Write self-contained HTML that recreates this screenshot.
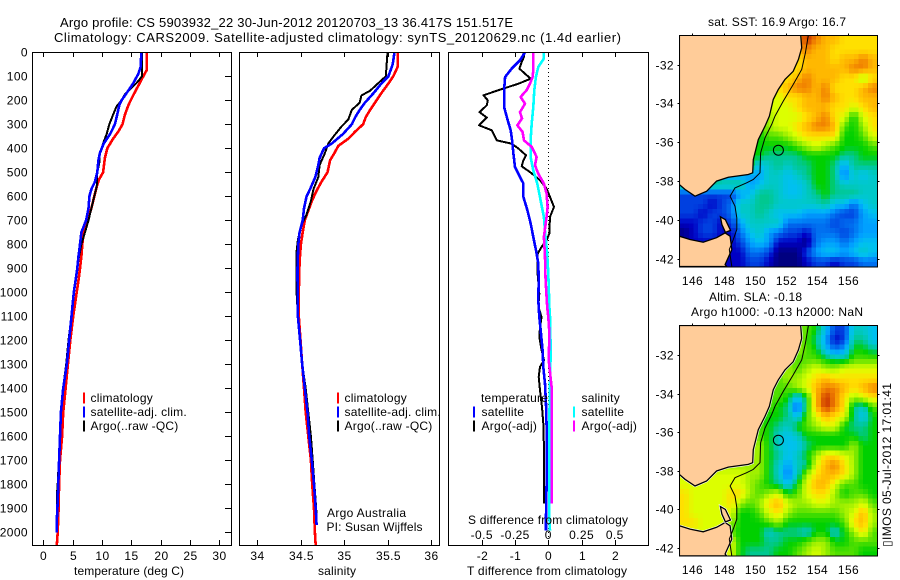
<!DOCTYPE html>
<html lang="en">
<head>
<meta charset="utf-8">
<title>Argo profile CS 5903932_22</title>
<style>
html,body{margin:0;padding:0;background:#fff;width:900px;height:580px;overflow:hidden}
svg{display:block}
text{font-family:"Liberation Sans",sans-serif;font-size:12px;fill:#000}
.ln{fill:none;stroke-width:2;shape-rendering:crispEdges;stroke-linejoin:round}
.ln-wide{fill:none;stroke-width:2.6;shape-rendering:crispEdges;stroke-linejoin:round}
.ax{fill:none;stroke:#000;stroke-width:1;shape-rendering:crispEdges}
</style>
</head>
<body>
<svg id="chart" xmlns="http://www.w3.org/2000/svg" width="900" height="580" viewBox="0 0 900 580">
  <rect x="0" y="0" width="900" height="580" fill="#fff"/>
  <g id="heat"></g>
  <g id="marks"></g>
  <g id="axes"></g>

  <text x="60" y="27" font-size="13" style="font-size:13px" textLength="453" lengthAdjust="spacing">Argo profile: CS 5903932_22 30-Jun-2012 20120703_13 36.417S 151.517E</text>
  <text x="54" y="42" style="font-size:13px" textLength="567" lengthAdjust="spacing">Climatology: CARS2009. Satellite-adjusted climatology: synTS_20120629.nc (1.4d earlier)</text>

  <text x="129" y="575" text-anchor="middle" textLength="110" lengthAdjust="spacing">temperature (deg C)</text>
  <text x="337" y="575" text-anchor="middle" textLength="38" lengthAdjust="spacing">salinity</text>
  <text x="547" y="575" text-anchor="middle" textLength="160" lengthAdjust="spacing">T difference from climatology</text>
  <text x="548" y="524" text-anchor="middle" textLength="160" lengthAdjust="spacing">S difference from climatology</text>

  <text x="327" y="517" textLength="79" lengthAdjust="spacing">Argo Australia</text>
  <text x="326.5" y="531" textLength="96" lengthAdjust="spacing">PI: Susan Wijffels</text>

  <text x="777" y="26" text-anchor="middle" textLength="138" lengthAdjust="spacing">sat. SST: 16.9 Argo: 16.7</text>
  <text x="709" y="301" textLength="93" lengthAdjust="spacing">Altim. SLA: -0.18</text>
  <text x="691" y="316" textLength="172" lengthAdjust="spacing">Argo h1000: -0.13 h2000: NaN</text>
  <text transform="translate(891,547) rotate(-90)" textLength="164" lengthAdjust="spacing">▯IMOS 05-Jul-2012 17:01:41</text>
</svg>
<script>
/* depth ticks */
const depthTicks = [0,100,200,300,400,500,600,700,800,900,1000,1100,1200,1300,1400,1500,1600,1700,1800,1900,2000];
const tempTicks = [0,5,10,15,20,25,30];
const salTicks = [34,34.5,35,35.5,36];
const salTickLabels = ['34','34.5','35','35.5','36'];
const tDiffTicks = [-2,-1,0,1,2];
const sDiffTicks = [-0.5,-0.25,0,0.25,0.5];
const sDiffLabels = ['-0.5','-0.25','0','0.25','0.5'];
const lonTicks = [146,148,150,152,154,156];
const latTicks = [-32,-34,-36,-38,-40,-42];

/* temperature profiles */
const tempClimDepth = [0,75,100,130,180,220,260,300,330,360,400,440,500,530,560,600,650,700,750,800,850,900,950,1000,1100,1200,1300,1400,1500,1600,1700,1800,1900,2000,2055];
const tempClimValue = [17.6,17.6,17.05,16.4,15.3,14.5,13.9,13.5,12.8,11.9,10.9,10.5,10.2,9.5,9.1,8.7,8.2,7.5,6.9,6.65,6.5,6.25,6.0,5.7,5.1,4.6,4.2,3.8,3.4,3.2,2.85,2.7,2.6,2.45,2.3];
const tempSatDepth = [0,60,90,130,170,200,220,260,300,340,380,420,450,500,540,570,600,650,700,750,800,850,900,950,1000,1100,1200,1300,1400,1500,1600,1700,1800,1900,1950,2000];
const tempSatValue = [16.7,16.6,16.2,15.3,14.2,13.35,12.95,12.6,12.2,11.4,10.3,9.65,9.4,9.2,8.8,8.2,7.85,7.7,7.3,6.5,6.25,6,5.8,5.5,5.2,4.8,4.4,4.0,3.4,3.0,2.85,2.7,2.55,2.4,2.3,2.3];
const tempArgoDepth = [0,100,120,150,175,200,225,260,300,340,380,420,460,500,560,600,650,700,750,800,850,900,950,1000,1100,1200,1300,1400,1500,1600,1700,1800,1850,1900,1960];
const tempArgoValue = [16.8,16.8,16.2,15,13.9,13.35,12.5,11.9,11.25,10.8,10.2,9.65,9.55,9.2,9.1,8.7,8.2,7.7,7.1,6.5,6.1,5.8,5.5,5.2,4.8,4.3,3.9,3.35,3.0,2.8,2.65,2.45,2.3,2.3,2.35];

/* salinity profiles */
const salClimDepth = [0,60,100,130,170,210,240,270,300,330,360,390,420,450,500,540,580,620,660,700,750,800,870,1000,1100,1200,1300,1400,1500,1600,1700,1800,1900,2000,2055];
const salClimValue = [35.617,35.617,35.567,35.51,35.43,35.356,35.3,35.25,35.22,35.13,35.05,34.935,34.89,34.84,34.81,34.74,34.68,34.63,34.59,34.55,34.525,34.505,34.49,34.48,34.48,34.5,34.52,34.54,34.56,34.59,34.62,34.635,34.655,34.665,34.675];
const salSatDepth = [0,50,100,130,170,210,240,270,300,340,380,400,440,470,520,570,600,650,700,750,800,900,1000,1100,1200,1300,1400,1500,1600,1700,1800,1900,1970];
const salSatValue = [35.58,35.56,35.51,35.43,35.34,35.24,35.18,35.13,35.09,34.99,34.86,34.77,34.72,34.705,34.67,34.61,34.57,34.54,34.525,34.49,34.475,34.465,34.467,34.47,34.495,34.52,34.55,34.58,34.6,34.63,34.655,34.675,34.685];
const salArgoDepth = [0,100,130,160,180,210,240,280,310,350,380,420,470,520,570,620,680,720,780,830,1000,1100,1200,1300,1400,1500,1600,1700,1800,1900,1950];
const salArgoValue = [35.5,35.48,35.39,35.3,35.2,35.18,35.09,35.05,34.97,34.88,34.82,34.78,34.72,34.705,34.65,34.62,34.565,34.51,34.47,34.455,34.455,34.47,34.495,34.52,34.56,34.59,34.62,34.64,34.66,34.68,34.685];

/* difference profiles */
const dTSatDepth = [0,33,68,103,158,228,283,325,367,422,478,519,547,603,658,714,769,825,880,950,1033,1103,1172,1242,1311,1381,1464,1561,1658,1797,1936,1992];
const dTSatValue = [-0.7,-0.85,-1.1,-1.3,-1.33,-1.33,-1.22,-1.13,-1.09,-1.05,-1,-0.85,-0.75,-0.75,-0.63,-0.53,-0.45,-0.37,-0.3,-0.29,-0.3,-0.27,-0.22,-0.17,-0.15,-0.1,-0.07,-0.05,-0.05,-0.05,-0.07,-0.07];
const dTArgoDepth = [0,19,40,68,89,110,131,158,179,200,221,249,272,304,325,367,381,401,429,450,475,499,533,568,603,644,686,755,783,811,839,908,1006,1061,1103,1144,1186,1242,1283,1311,1353,1408,1478,1547,1658,1880];
const dTArgoValue = [-0.75,-0.73,-0.8,-0.87,-0.7,-0.53,-0.9,-1.5,-1.95,-1.82,-1.85,-2.07,-1.85,-2.08,-1.7,-1.55,-1.1,-0.9,-0.67,-0.75,-0.8,-0.55,-0.25,-0.05,0.05,0.17,0.05,0.03,-0.05,-0.2,-0.32,-0.33,-0.27,-0.3,-0.2,-0.25,-0.27,-0.2,-0.13,-0.25,-0.29,-0.25,-0.19,-0.15,-0.13,-0.13];
const dSSatDepth = [0,26,61,103,158,228,297,367,436,492,547,617,686,755,839,922,1061,1103,1242,1381,1519,1658,1797,1936,1992];
const dSSatValue = [-0.033,-0.033,-0.075,-0.093,-0.105,-0.113,-0.125,-0.133,-0.133,-0.113,-0.083,-0.058,-0.033,-0.023,-0.008,0,0.008,0.013,0.018,0.013,0.008,0.005,0.008,0.008,0.013];
const dSArgoDepth = [0,75,103,131,158,186,214,249,276,304,332,367,394,436,471,506,547,589,644,686,769,853,950,1061,1103,1172,1283,1394,1589,1880];
const dSArgoValue = [-0.113,-0.113,-0.118,-0.138,-0.163,-0.208,-0.175,-0.213,-0.198,-0.233,-0.193,-0.183,-0.125,-0.088,-0.1,-0.075,-0.033,-0.013,-0.005,-0.013,-0.033,-0.025,-0.02,-0.008,0,0.008,0.003,0.025,0.025,0.025];

/* gridded map values: colour class per cell, north to south */
const sstGrid = [
[13,13,13,13,13,13,13,13,13,13,13,13,13,15,14,13,13,12,12,12,12],
[13,13,13,13,13,13,13,13,13,13,13,13,13,14,13,13,12,12,12,12,12],
[12,12,12,12,12,12,12,12,12,12,12,12,12,13,13,13,12,13,13,14,13],
[12,12,12,12,12,12,12,12,12,12,12,12,12,13,13,13,13,13,14,14,13],
[12,12,12,12,12,12,12,12,12,12,12,12,13,14,13,13,13,12,12,10,12],
[12,12,12,12,12,12,12,12,12,12,12,13,14,14,13,14,12,12,12,13,14],
[11,11,11,11,11,11,11,11,11,11,11,12,12,13,13,14,13,12,12,13,13],
[11,11,11,11,11,11,11,11,11,11,11,11,12,13,13,13,12,12,11,12,13],
[10,10,10,10,10,10,10,10,10,10,11,11,11,12,13,14,12,11,8,11,12],
[9,9,9,9,9,9,9,9,9,10,11,11,12,13,14,14,13,9,8,10,12],
[8,8,8,8,8,8,8,8,8,9,9,10,11,12,12,12,12,8,8,9,11],
[8,8,8,8,8,8,8,8,8,8,8,8,9,10,11,10,9,8,8,8,9],
[8,8,8,8,8,8,8,8,8,7,7,7,7,8,8,8,8,7,7,8,8],
[8,8,8,8,8,8,8,8,5,6,7,6,7,7,8,8,7,4,7,7,7],
[8,8,8,8,4,4,4,4,4,6,6,5,6,7,8,8,7,3,6,5,6],
[7,7,7,7,7,7,7,4,5,6,6,5,5,6,8,8,7,6,6,6,6],
[2,2,2,2,2,2,4,5,7,7,6,5,5,6,7,8,7,7,7,6,6],
[2,2,2,1,2,3,6,6,7,7,6,6,6,6,6,7,5,5,3,5,6],
[2,2,1,2,2,3,6,6,7,6,5,5,5,4,4,4,3,2,2,4,5],
[1,1,2,2,1,2,4,6,6,6,6,3,3,3,3,3,2,3,3,4,4],
[0,1,2,2,1,1,3,5,6,4,3,2,2,1,3,3,3,2,3,4,4],
[1,1,1,1,1,1,2,4,5,4,1,1,1,0,3,4,4,3,4,5,5],
[1,1,1,1,1,1,1,3,3,2,0,0,0,2,4,5,5,4,5,6,5],
[1,1,1,1,1,1,1,2,2,1,0,0,0,1,2,2,1,2,2,3,3]
];
const slaGrid = [
[10,10,10,10,10,10,10,10,10,10,10,10,10,9,8,5,2,2,6,6,5],
[10,10,10,10,10,10,10,10,10,10,10,10,10,9,7,4,1,2,7,7,5],
[10,10,10,10,10,10,10,10,10,10,10,10,10,9,8,5,3,4,8,8,7],
[10,10,10,10,10,10,10,10,10,10,10,10,9,9,9,8,7,7,9,9,9],
[10,10,10,10,10,10,10,10,10,10,10,10,9,10,11,10,10,11,11,11,11],
[10,10,10,10,10,10,10,10,10,10,9,10,10,11,12,13,12,12,12,12,12],
[10,10,10,10,10,10,10,10,10,9,9,9,10,11,13,14,14,13,12,13,14],
[10,10,10,10,10,10,10,10,10,9,9,8,5,8,13,15,14,12,10,11,12],
[10,10,10,10,10,10,10,10,9,9,8,7,2,8,13,15,14,12,7,6,9],
[10,10,10,10,10,10,10,10,9,8,8,7,5,9,11,13,12,11,7,5,8],
[10,10,10,10,10,10,10,10,9,8,7,6,8,9,10,11,11,8,7,7,8],
[10,10,10,10,10,10,10,10,9,8,6,5,6,8,8,8,8,8,8,7,8],
[10,10,10,10,10,10,10,10,10,8,6,5,5,7,8,8,8,8,10,8,8],
[10,10,10,10,10,10,10,10,10,8,7,5,6,8,10,12,12,11,10,8,8],
[10,10,10,10,10,10,10,10,10,8,6,4,6,7,11,13,14,12,10,8,8],
[11,11,11,11,11,11,11,10,10,8,6,3,6,10,12,13,13,12,10,8,8],
[11,11,11,11,11,11,11,10,9,8,7,5,8,11,13,13,11,9,9,8,8],
[12,11,11,11,11,12,12,10,9,10,11,8,9,11,12,12,10,8,9,9,8],
[12,11,11,11,11,12,10,9,10,12,13,11,10,10,11,11,10,10,10,11,9],
[12,11,11,11,11,11,8,8,9,11,12,10,9,9,9,9,9,10,11,13,10],
[12,12,11,11,11,10,8,8,8,9,10,8,8,8,8,8,8,9,12,13,10],
[11,11,11,11,11,9,8,8,8,6,7,7,7,6,8,8,6,8,10,12,9],
[11,11,11,11,11,11,8,8,8,7,7,8,8,9,10,10,8,8,9,9,9],
[11,11,11,11,11,11,8,7,7,7,8,8,9,10,11,10,9,9,9,8,8]
];
const colourStops = [[0,0,128],[0,0,196],[0,64,224],[0,112,240],[0,160,255],[0,192,240],[0,200,200],[0,200,144],[0,208,0],[80,224,0],[160,240,0],[220,255,0],[255,224,0],[255,184,0],[240,128,0],[200,48,0]];

/* coast and isobath geography */
const mainlandLon = [145.17,152.95,153.01,152.8,152.47,151.94,151.51,151.19,150.94,150.66,150.23,149.91,149.87,149.59,148.31,147.56,146.92,146.17,145.53,145.17];
const mainlandLat = [-30.47,-30.47,-31.14,-31.74,-32.35,-32.77,-33.29,-33.8,-34.66,-35.18,-35.87,-36.9,-37.58,-37.67,-37.81,-38.01,-38.53,-38.79,-38.44,-38.19];
const tasmaniaLon = [145.17,145.85,146.7,147.56,148.1,148.42,148.53,148.1,148.2,145.17];
const tasmaniaLat = [-40.85,-41.02,-41.16,-40.93,-40.68,-40.85,-41.54,-42.31,-42.41,-42.41];
const flindersLon = [147.8,148.12,148.45,148.12,147.9];
const flindersLat = [-39.85,-40.0,-40.55,-40.65,-40.25];
const isobathLon = [153.44,153.25,153.01,152.47,151.83,151.3,151.09,150.66,150.38,150.34,149.91,149.49,148.74,148.42,148.74,148.85,148.85,148.63,148.37,148.53];
const isobathLat = [-30.47,-31.4,-32.26,-33.03,-33.89,-34.66,-35.09,-35.78,-36.55,-37.58,-37.93,-38.1,-38.36,-38.79,-39.3,-39.9,-40.5,-41.02,-41.54,-42.41];
const profileLon = 151.517;
const profileLat = -36.417;

const NS = 'http://www.w3.org/2000/svg';
const marks = document.getElementById('marks');
const axes = document.getElementById('axes');
const heat = document.getElementById('heat');

function add(parent, tag, name, attrs, txt){
  const el = document.createElementNS(NS, tag);
  
  
  for(const k in attrs) el.setAttribute(k, attrs[k]);
  if(txt !== undefined) el.textContent = txt;
  parent.appendChild(el);
  return el;
}

/* axis functions */
const PTOP = 52, PBOT = 545;
const yDepth = d => 52.3 + 0.24 * d;
const xTemp = t => 43.3 + 5.867 * t;
const xSal = s => 257 + 87 * (s - 34);
const xDT = t => 548.3 + 33.25 * t;
const xDS = s => 548.3 + 133 * s;

function profile(name, depth, values, xf, colour, cls){
  const pts = depth.map((d,i) => xf(values[i]).toFixed(1) + ',' + yDepth(d).toFixed(1)).join(' ');
  const p = add(marks, 'polyline', name, {points: pts, stroke: colour});
  p.setAttribute('class', cls || 'ln');
}

/* colour scale */
function colourOf(v){
  const n = colourStops.length - 1;
  const t = Math.max(0, Math.min(n, v));
  const i = Math.min(n - 1, Math.floor(t));
  const f = t - i;
  const a = colourStops[i], b = colourStops[i + 1];
  return 'rgb(' + a.map((q, k) => Math.round(q + (b[k] - q) * f)).join(',') + ')';
}
/* draw-time bilinear sample of a grid, at cell-centre coordinates */
function sample(grid, u, v){
  const R = grid.length - 1, C = grid[0].length - 1;
  const x = Math.max(0, Math.min(C, u - 0.5)), y = Math.max(0, Math.min(R, v - 0.5));
  const c = Math.min(C - 1, Math.floor(x)), r = Math.min(R - 1, Math.floor(y));
  const fx = x - c, fy = y - r;
  return (grid[r][c] * (1 - fx) + grid[r][c + 1] * fx) * (1 - fy) + (grid[r + 1][c] * (1 - fx) + grid[r + 1][c + 1] * fx) * fy;
}

/* maps */
const MAPX0 = 679.3, MAPW = 198;
const xLon = lon => 692.3 + 15.6 * (lon - 146);
const LON0 = 145.17, DLON = 0.6044, LAT0 = -30.47, DLAT = 0.4983, SUB = 2;

function drawMap(prefix, grid, top, bottom, lat32, latScale, coastColour){
  const yLat = lat => lat32 + latScale * (-32 - lat);
  for(let r = 0; r < grid.length * SUB; r++){
    for(let c = 0; c < grid[0].length * SUB; c++){
      const x0 = xLon(LON0 + c * DLON / SUB), x1 = xLon(LON0 + (c + 1) * DLON / SUB);
      const y0 = yLat(LAT0 - r * DLAT / SUB), y1 = yLat(LAT0 - (r + 1) * DLAT / SUB);
      const v = sample(grid, (c + 0.5) / SUB, (r + 0.5) / SUB);
      const cell = add(heat, 'rect', prefix + '-cell', {x: x0.toFixed(1), y: y0.toFixed(1), width: (x1 - x0 + 0.5).toFixed(1), height: (y1 - y0 + 0.5).toFixed(1), fill: colourOf(v)});
      cell.setAttribute('shape-rendering', 'crispEdges');
    }
  }
  const poly = (name, lons, lats) => {
    const pts = lons.map((l, i) => xLon(l).toFixed(1) + ',' + yLat(lats[i]).toFixed(1)).join(' ');
    if(coastColour) add(heat, 'polygon', name + '-halo', {points: pts, fill: 'none', stroke: coastColour, 'stroke-width': 2.5});
    add(heat, 'polygon', name, {points: pts, fill: '#ffcc99', stroke: '#000', 'stroke-width': 1.3});
  };
  poly(prefix + '-mainland', mainlandLon, mainlandLat);
  poly(prefix + '-tasmania', tasmaniaLon, tasmaniaLat);
  poly(prefix + '-flinders-island', flindersLon, flindersLat);
  add(heat, 'polyline', prefix + '-isobath', {points: isobathLon.map((l, i) => xLon(l).toFixed(1) + ',' + yLat(isobathLat[i]).toFixed(1)).join(' '), fill: 'none', stroke: '#000', 'stroke-width': 1});
  add(heat, 'circle', prefix + '-profile-marker', {cx: xLon(profileLon).toFixed(1), cy: yLat(profileLat).toFixed(1), r: 5, fill: 'none', stroke: '#000', 'stroke-width': 1});
  /* frame mask so land halos stay inside */
  add(heat, 'rect', prefix + '-left-mask', {x: 660, y: top - 3, width: MAPX0 - 660, height: bottom - top + 6, fill: '#fff'});
  add(heat, 'rect', prefix + '-right-mask', {x: MAPX0 + MAPW, y: top - 3, width: 10, height: bottom - top + 6, fill: '#fff'});
  add(heat, 'rect', prefix + '-top-mask', {x: 660, y: top - 5, width: 228, height: 5, fill: '#fff'});
  add(heat, 'rect', prefix + '-bottom-mask', {x: 660, y: bottom, width: 228, height: 5, fill: '#fff'});
  const f = add(axes, 'rect', prefix + '-frame', {x: MAPX0, y: top, width: MAPW, height: bottom - top});
  f.setAttribute('class', 'ax');
  lonTicks.forEach(l => {
    const x = Math.round(xLon(l)) + 0.5;
    const t = add(axes, 'line', prefix + '-lon-tick', {x1: x, x2: x, y1: top - 2, y2: top});
    t.setAttribute('class', 'ax');
    add(axes, 'text', prefix + '-lon-label', {x: x, y: bottom + 18, 'text-anchor': 'middle', 'letter-spacing': '0.4'}, String(l));
  });
  latTicks.forEach(l => {
    const y = Math.round(yLat(l)) + 0.5;
    const t1 = add(axes, 'line', prefix + '-lat-tick-left', {x1: MAPX0 - 2, x2: MAPX0, y1: y, y2: y});
    t1.setAttribute('class', 'ax');
    const t2 = add(axes, 'line', prefix + '-lat-tick-right', {x1: MAPX0 + MAPW, x2: MAPX0 + MAPW + 2, y1: y, y2: y});
    t2.setAttribute('class', 'ax');
    add(axes, 'text', prefix + '-lat-label', {x: 674, y: y + 4, 'text-anchor': 'end', 'letter-spacing': '0.4'}, String(l));
  });
}
drawMap('sst-map', sstGrid, 35.3, 267, 64.5, 19.4, null);
drawMap('sla-map', slaGrid, 325.7, 556, 355, 19.3, '#fff');

/* panel frames and ticks */
function frame(name, x0, x1){
  const r = add(axes, 'rect', name + '-frame', {x: x0 + 0.5, y: PTOP + 0.5, width: x1 - x0, height: PBOT - PTOP});
  r.setAttribute('class', 'ax');
}
function xTicks(name, ticks, labels, xf){
  ticks.forEach((t, i) => {
    const x = Math.round(xf(t)) + 0.5;
    const a = add(axes, 'line', name + '-top-tick', {x1: x, x2: x, y1: PTOP, y2: PTOP + 5});
    a.setAttribute('class', 'ax');
    const b = add(axes, 'line', name + '-bottom-tick', {x1: x, x2: x, y1: PBOT - 5, y2: PBOT});
    b.setAttribute('class', 'ax');
    add(axes, 'text', name + '-tick-label', {x: x, y: 560, 'text-anchor': 'middle', 'letter-spacing': '0.4'}, labels[i]);
  });
}
frame('temperature-panel', 32, 231);
frame('salinity-panel', 239, 439);
frame('difference-panel', 448, 648);
xTicks('temperature', tempTicks, tempTicks.map(String), xTemp);
xTicks('salinity', salTicks, salTickLabels, xSal);
xTicks('t-difference', tDiffTicks, tDiffTicks.map(String), xDT);
sDiffTicks.forEach((t, i) => {
  add(axes, 'text', 's-difference-tick-label', {x: xDS(t), y: 539, 'text-anchor': 'middle', 'letter-spacing': '0.4'}, sDiffLabels[i]);
});
depthTicks.forEach(d => {
  const y = Math.round(yDepth(d)) + 0.5;
  const t = add(axes, 'line', 'depth-tick', {x1: 225, x2: 231, y1: y, y2: y});
  t.setAttribute('class', 'ax');
  add(axes, 'text', 'depth-tick-label', {x: 28, y: y + 4, 'text-anchor': 'end', 'letter-spacing': '0.4'}, String(d));
});

/* zero reference */
add(marks, 'line', 'zero-difference-line', {x1: 548.5, x2: 548.5, y1: PTOP, y2: PBOT, stroke: '#000', 'stroke-width': 1, 'stroke-dasharray': '1 3'});

/* profile series */
profile('temperature-climatology-line', tempClimDepth, tempClimValue, xTemp, '#ff0000', 'ln-wide');
profile('temperature-argo-line', tempArgoDepth, tempArgoValue, xTemp, '#000000');
profile('temperature-satellite-line', tempSatDepth, tempSatValue, xTemp, '#0000ff', 'ln-wide');
profile('salinity-climatology-line', salClimDepth, salClimValue, xSal, '#ff0000', 'ln-wide');
profile('salinity-argo-line', salArgoDepth, salArgoValue, xSal, '#000000');
profile('salinity-satellite-line', salSatDepth, salSatValue, xSal, '#0000ff', 'ln-wide');
profile('t-difference-argo-line', dTArgoDepth, dTArgoValue, xDT, '#000000');
profile('s-difference-satellite-line', dSSatDepth, dSSatValue, xDS, '#00ffff', 'ln-wide');
profile('s-difference-argo-line', dSArgoDepth, dSArgoValue, xDS, '#ff00ff', 'ln-wide');
profile('t-difference-satellite-line', dTSatDepth, dTSatValue, xDT, '#0000ff', 'ln-wide');

/* legends */
function legendEntry(name, mx, tx, cy, colour, label){
  if(colour){
    add(marks, 'line', name + '-swatch', {x1: mx, x2: mx, y1: cy - 5.5, y2: cy + 5.5, stroke: colour, 'stroke-width': 2});
  }
  add(axes, 'text', name + '-label', {x: tx, y: cy + 4, 'letter-spacing': '0.22'}, label);
}
legendEntry('temperature-legend-climatology', 84, 90.5, 398, '#ff0000', 'climatology');
legendEntry('temperature-legend-satellite', 84, 90.5, 412, '#0000ff', 'satellite-adj. clim.');
legendEntry('temperature-legend-argo', 84, 90.5, 426, '#000000', 'Argo(..raw -QC)');
legendEntry('salinity-legend-climatology', 338, 344.5, 398, '#ff0000', 'climatology');
legendEntry('salinity-legend-satellite', 338, 344.5, 412, '#0000ff', 'satellite-adj. clim.');
legendEntry('salinity-legend-argo', 338, 344.5, 426, '#000000', 'Argo(..raw -QC)');
legendEntry('difference-legend-temperature-heading', 0, 481, 398, null, 'temperature');
legendEntry('difference-legend-t-satellite', 474, 481.5, 412, '#0000ff', 'satellite');
legendEntry('difference-legend-t-argo', 474, 481.5, 426, '#000000', 'Argo(-adj)');
legendEntry('difference-legend-salinity-heading', 0, 581.5, 398, null, 'salinity');
legendEntry('difference-legend-s-satellite', 574, 581.5, 412, '#00ffff', 'satellite');
legendEntry('difference-legend-s-argo', 574, 581.5, 426, '#ff00ff', 'Argo(-adj)');
</script>
</body>
</html>
